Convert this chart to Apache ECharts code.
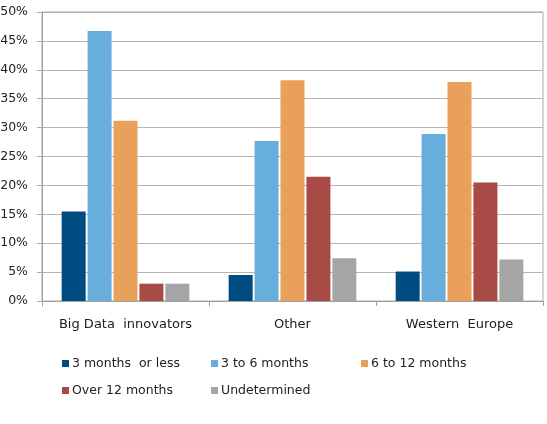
<!DOCTYPE html>
<html>
<head>
<meta charset="utf-8">
<script src="https://cdn.jsdelivr.net/npm/echarts@6/dist/echarts.min.js"></script>
<style>
  html, body { margin: 0; padding: 0; background: #fff; }
  #chart { width: 547px; height: 424px; }
</style>
</head>
<body>
<div id="chart"></div>
<script>
const categories = ['Big Data  innovators', 'Other', 'Western  Europe']
const seriesNames = ['3 months  or less', '3 to 6 months', '6 to 12 months', 'Over 12 months', 'Undetermined']
const threeOrLess = [15.5, 4.5, 5.1]
const threeToSix = [46.7, 27.7, 28.9]
const sixToTwelve = [31.2, 38.2, 37.9]
const overTwelve = [3.0, 21.5, 20.5]
const undetermined = [3.0, 7.4, 7.2]
const values = [threeOrLess, threeToSix, sixToTwelve, overTwelve, undetermined]

const colors = ['#004b80', '#67aedd', '#e8a05b', '#a84b46', '#a5a5a5']
const legendPos = [[62, 357], [211, 357], [361, 357], [62, 384], [211, 384]]
const font = 'DejaVu Sans'

const chart = echarts.init(document.getElementById('chart'))

chart.setOption({
  animation: false,
  textStyle: { fontFamily: font },
  grid: {
    left: 42, right: 4, top: 12, bottom: 123,
    containLabel: false,
    outerBoundsMode: 'none',
    show: true, borderColor: '#aaaaaa', borderWidth: 1
  },
  legend: seriesNames.map((name, i) => ({
    data: [name],
    left: legendPos[i][0],
    top: legendPos[i][1],
    padding: 0,
    itemWidth: 7,
    itemHeight: 7,
    itemGap: 0,
    icon: 'rect',
    textStyle: { fontFamily: font, fontSize: 12.5, color: '#222', padding: [0, 0, 0, -2] }
  })),
  xAxis: {
    type: 'category',
    data: categories,
    axisLine: { lineStyle: { color: '#a0a0a0' } },
    axisTick: { show: true, length: 5, lineStyle: { color: '#a0a0a0' } },
    axisLabel: { color: '#222', fontSize: 13, margin: 17, interval: 0 }
  },
  yAxis: {
    type: 'value',
    min: 0, max: 50, interval: 5,
    axisLine: { show: true, lineStyle: { color: '#a0a0a0' } },
    axisTick: { show: true, length: 5, lineStyle: { color: '#aaaaaa' } },
    splitLine: { lineStyle: { color: '#b4b4b4' } },
    axisLabel: { color: '#222', fontSize: 12.5, margin: 14, formatter: '{value}%' }
  },
  series: seriesNames.map((name, i) => ({
    name,
    type: 'bar',
    data: values[i],
    barWidth: 24,
    barGap: '8%',
    itemStyle: { color: colors[i] }
  }))
})
</script>
</body>
</html>
